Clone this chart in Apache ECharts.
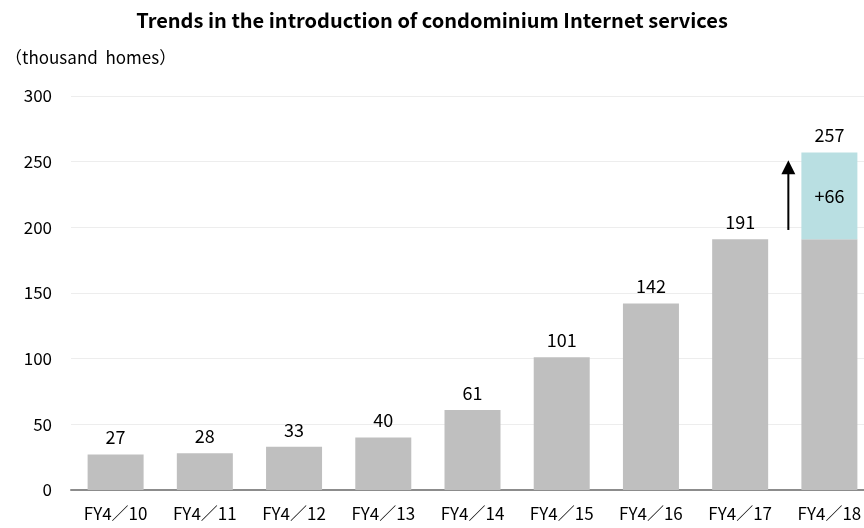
<!DOCTYPE html>
<html><head><meta charset="utf-8">
<script src="https://cdn.jsdelivr.net/npm/echarts@6/dist/echarts.min.js"></script>
<style>html,body{margin:0;padding:0;background:#fff}#c{width:864px;height:528px}</style>
</head><body><div id="c"></div>
<script>
const categories = ['FY4／10','FY4／11','FY4／12','FY4／13','FY4／14','FY4／15','FY4／16','FY4／17','FY4／18'];
const baseValues = [27, 28, 33, 40, 61, 101, 142, 191, 191];
const increaseValues = [null, null, null, null, null, null, null, null, 66];
const totalLabels = [27, 28, 33, 40, 61, 101, 142, 191, 257];
const yTicks = [0, 50, 100, 150, 200, 250, 300];
const arrowFrom = 198, arrowTo = 251;

const font = '"Noto Sans CJK JP", "Noto Sans", sans-serif';
const chart = echarts.init(document.getElementById('c'));
chart.setOption({
  animation: false,
  title: [{
    text: 'Trends in the introduction of condominium Internet services',
    left: 'center', top: 5,
    textStyle: { fontFamily: font, fontWeight: 'bold', fontSize: 20, color: '#000' }
  }, {
    text: '（thousand  homes）',
    left: 0, top: 44,
    textStyle: { fontFamily: font, fontWeight: 'normal', fontSize: 17, color: '#000' }
  }],
  grid: { left: 71, width: 803, top: 96, height: 394, containLabel: false, outerBoundsMode: 'none' },
  xAxis: {
    type: 'category', data: categories,
    axisLine: { lineStyle: { color: '#8c8c8c', width: 2 } },
    axisTick: { show: false },
    axisLabel: { fontFamily: font, fontSize: 17, color: '#000', margin: 15 }
  },
  yAxis: {
    type: 'value', min: yTicks[0], max: yTicks[yTicks.length-1], interval: 50,
    axisLine: { show: false }, axisTick: { show: false },
    splitLine: { lineStyle: { color: '#ededed', width: 1 } },
    axisLabel: { fontFamily: font, fontSize: 17, color: '#000', margin: 19 }
  },
  series: [{
    type: 'bar', stack: 't', data: baseValues, barWidth: 56,
    itemStyle: { color: '#bfbfbf' },
    label: {
      show: true, position: 'top', distance: 8,
      fontFamily: font, fontSize: 18, color: '#000',
      formatter: p => p.dataIndex === 8 ? '' : totalLabels[p.dataIndex]
    }
  }, {
    type: 'bar', stack: 't', data: increaseValues, barWidth: 56,
    itemStyle: { color: '#b9dfe2' },
    label: {
      show: true, position: 'inside',
      fontFamily: font, fontSize: 18, color: '#000',
      formatter: p => '+' + p.value
    }
  }, {
    type: 'bar', data: totalLabels.map((v, i) => i === 8 ? v : null), barGap: '-100%', barWidth: 56,
    itemStyle: { color: 'transparent' },
    silent: true,
    label: { show: true, position: 'top', distance: 8, fontFamily: font, fontSize: 18, color: '#000' },
    z: 0
  }]
});
const c7 = chart.convertToPixel({ xAxisIndex: 0 }, categories[7]);
const c8 = chart.convertToPixel({ xAxisIndex: 0 }, categories[8]);
const ax = c8 - (c8 - c7) * 0.46;
const y1 = chart.convertToPixel({ yAxisIndex: 0 }, arrowFrom);
const y2 = chart.convertToPixel({ yAxisIndex: 0 }, arrowTo);
chart.setOption({
  graphic: [{
    type: 'line', shape: { x1: ax, y1: y1, x2: ax, y2: y2 + 12 },
    style: { stroke: '#000', lineWidth: 2 }
  }, {
    type: 'polygon', shape: { points: [[ax - 7, y2 + 14], [ax + 7, y2 + 14], [ax, y2]] },
    style: { fill: '#000' }
  }]
});
</script></body></html>
